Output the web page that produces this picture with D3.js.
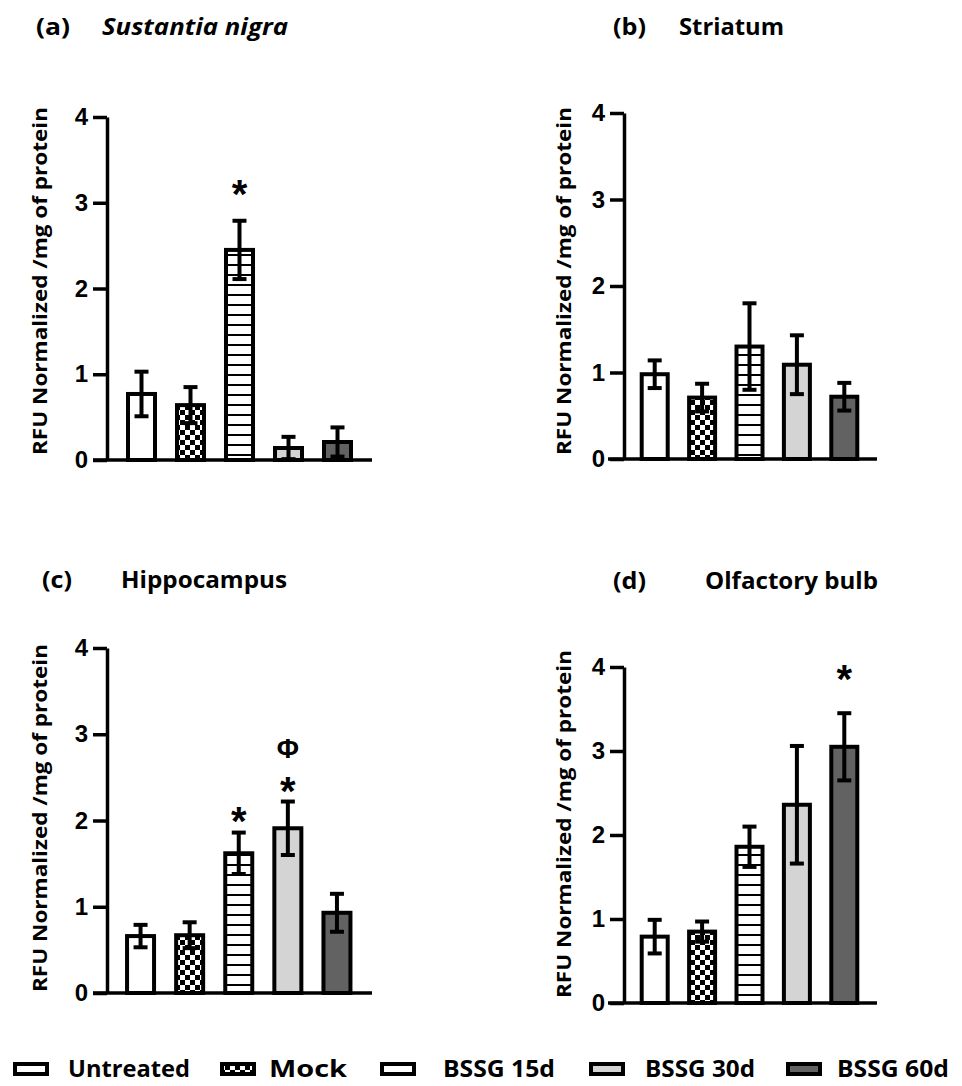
<!DOCTYPE html>
<html><head><meta charset="utf-8">
<script src="https://cdn.jsdelivr.net/npm/d3@7"></script>
<style>body{margin:0;background:#fff}svg{display:block}</style>
</head><body><svg id="c" width="962" height="1086"></svg>
<script>
const groups = ["Untreated", "Mock", "BSSG 15d", "BSSG 30d", "BSSG 60d"];
const yTicks = [0, 1, 2, 3, 4];
const panelLetters = ["(a)", "(b)", "(c)", "(d)"];
const panelTitles = ["Sustantia nigra", "Striatum", "Hippocampus", "Olfactory bulb"];
const yLabel = "RFU Normalized /mg of protein";

const meanA = [0.77, 0.64, 2.45, 0.14, 0.21];
const errA  = [0.26, 0.21, 0.34, 0.13, 0.17];
const meanB = [0.98, 0.71, 1.30, 1.09, 0.72];
const errB  = [0.16, 0.16, 0.50, 0.34, 0.16];
const meanC = [0.66, 0.67, 1.62, 1.91, 0.93];
const errC  = [0.13, 0.15, 0.24, 0.31, 0.22];
const meanD = [0.79, 0.85, 1.86, 2.36, 3.05];
const errD  = [0.20, 0.12, 0.24, 0.70, 0.40];

const annotA = [{group: "BSSG 15d", text: "*", y: 3.21}];
const annotB = [];
const annotC = [{group: "BSSG 15d", text: "*", y: 2.10}, {group: "BSSG 30d", text: "*", y: 2.45}, {group: "BSSG 30d", text: "Φ", y: 2.84}];
const annotD = [{group: "BSSG 60d", text: "*", y: 3.96}];

const means = [meanA, meanB, meanC, meanD];
const errs = [errA, errB, errC, errD];
const annots = [annotA, annotB, annotC, annotD];

// layout (positions / sizes)
const layouts = [
  {axisX:107, y0:460, y4:117, bandL:117, bandR:362, xL:93, xR:372, barW:27, labelX:47, labelY:281, letterX:36, letterW:34, titleX:102, titleY:35, titleW:186, italic:true},
  {axisX:624, y0:459, y4:113, bandL:631, bandR:868, xL:608, xR:877, barW:26, labelX:571, labelY:281, letterX:613, letterW:33, titleX:679, titleY:35, titleW:105, italic:false},
  {axisX:107, y0:993, y4:648, bandL:116, bandR:361.5, xL:93, xR:372, barW:27, labelX:47, labelY:818, letterX:42, letterW:30, titleX:121, titleY:588, titleW:166, italic:false},
  {axisX:624, y0:1003, y4:667, bandL:631, bandR:868, xL:608, xR:877, barW:26, labelX:571, labelY:824, letterX:613, letterW:33, titleX:705, titleY:589, titleW:173, italic:false}
];

const svg = d3.select("#c");
const defs = svg.append("defs");

// checker pattern (Mock)
const pc = defs.append("pattern").attr("id","checker").attr("patternUnits","userSpaceOnUse")
  .attr("width",10).attr("height",10);
pc.append("rect").attr("width",10).attr("height",10).attr("fill","#fff");
pc.append("rect").attr("width",5).attr("height",5).attr("fill","#000");
pc.append("rect").attr("x",5).attr("y",5).attr("width",5).attr("height",5).attr("fill","#000");

// horizontal lines pattern (BSSG 15d)
const ph = defs.append("pattern").attr("id","hlines").attr("patternUnits","userSpaceOnUse")
  .attr("width",10).attr("height",10);
ph.append("rect").attr("width",10).attr("height",10).attr("fill","#fff");
ph.append("rect").attr("y",4).attr("width",10).attr("height",2).attr("fill","#000");

const fills = {"Untreated":"#ffffff", "Mock":"url(#checker)", "BSSG 15d":"url(#hlines)", "BSSG 30d":"#d4d4d4", "BSSG 60d":"#626262"};

const titleFont = "'Open Sans', 'DejaVu Sans', sans-serif";
const numFont = "'Liberation Sans', Arial, sans-serif";

layouts.forEach((L, pi) => {
  const g = svg.append("g");
  const y = d3.scaleLinear().domain([0, 4]).range([L.y0, L.y4]);
  const x = d3.scaleBand().domain(groups).range([L.bandL, L.bandR]);

  // titles
  g.append("text").attr("x", L.letterX).attr("y", L.titleY)
    .attr("font-family", titleFont).attr("font-weight", 700).attr("font-size", 23)
    .attr("textLength", L.letterW).attr("lengthAdjust", "spacingAndGlyphs")
    .attr("fill", "#000").text(panelLetters[pi]);
  g.append("text").attr("x", L.titleX).attr("y", L.titleY)
    .attr("font-family", titleFont).attr("font-weight", 700).attr("font-size", 23)
    .attr("font-style", L.italic ? "italic" : "normal")
    .attr("textLength", L.titleW).attr("lengthAdjust", "spacingAndGlyphs")
    .attr("fill", "#000").text(panelTitles[pi]);

  // y label
  g.append("text").attr("transform", `translate(${L.labelX},${L.labelY}) rotate(-90)`)
    .attr("text-anchor", "middle").attr("font-family", titleFont).attr("font-weight", 700)
    .attr("font-size", 20).attr("textLength", 348).attr("lengthAdjust", "spacingAndGlyphs")
    .attr("fill", "#000").text(yLabel);

  // bars
  const data = groups.map((k, i) => ({k, m: means[pi][i], e: errs[pi][i]}));
  g.selectAll("rect.bar").data(data).join("rect").attr("class", "bar")
    .attr("x", d => x(d.k) + x.bandwidth() / 2 - L.barW / 2)
    .attr("width", L.barW)
    .attr("y", d => y(d.m))
    .attr("height", d => y(0) - y(d.m))
    .attr("fill", d => fills[d.k]).attr("stroke", "#000").attr("stroke-width", 4);

  // error bars
  const eg = g.selectAll("g.err").data(data).join("g").attr("class", "err")
    .attr("stroke", "#000").attr("stroke-width", 4).attr("fill", "none");
  eg.append("line")
    .attr("x1", d => x(d.k) + x.bandwidth() / 2).attr("x2", d => x(d.k) + x.bandwidth() / 2)
    .attr("y1", d => y(d.m - d.e)).attr("y2", d => y(d.m + d.e));
  eg.append("line")
    .attr("x1", d => x(d.k) + x.bandwidth() / 2 - 7).attr("x2", d => x(d.k) + x.bandwidth() / 2 + 7)
    .attr("y1", d => y(d.m + d.e)).attr("y2", d => y(d.m + d.e));
  eg.append("line")
    .attr("x1", d => x(d.k) + x.bandwidth() / 2 - 7).attr("x2", d => x(d.k) + x.bandwidth() / 2 + 7)
    .attr("y1", d => y(d.m - d.e)).attr("y2", d => y(d.m - d.e));

  // y axis
  const ax = g.append("g").attr("transform", `translate(${L.axisX},0)`)
    .call(d3.axisLeft(y).tickValues(yTicks).tickFormat(d3.format("d")).tickSize(14).tickSizeOuter(0).tickPadding(5));
  ax.select(".domain").attr("stroke", "#000").attr("stroke-width", 3.5);
  ax.selectAll(".tick line").attr("stroke", "#000").attr("stroke-width", 3.5);
  ax.selectAll(".tick text").attr("font-family", numFont).attr("font-weight", 700)
    .attr("font-size", 24).attr("fill", "#000");

  // x axis baseline
  g.append("line").attr("x1", L.xL).attr("x2", L.xR).attr("y1", y(0)).attr("y2", y(0))
    .attr("stroke", "#000").attr("stroke-width", 3.5);

  // annotations
  annots[pi].forEach(a => {
    const cx = x(a.group) + x.bandwidth() / 2;
    if (a.text === "*") {
      g.append("text").attr("x", cx).attr("y", y(a.y) + 23).attr("text-anchor", "middle")
        .attr("font-family", numFont).attr("font-weight", 700).attr("font-size", 40)
        .attr("fill", "#000").text(a.text);
    } else {
      g.append("text").attr("x", cx).attr("y", y(a.y) + 10).attr("text-anchor", "middle")
        .attr("font-family", numFont).attr("font-weight", 700).attr("font-size", 27)
        .attr("fill", "#000").text(a.text);
    }
  });
});

// legend
const legendX = [13, 220, 380, 589, 786];
const legendTextX = [68, 269, 443, 645, 837];
const legendTextW = [122, 78, 112, 110, 112];
const lg = svg.append("g");
groups.forEach((k, i) => {
  lg.append("rect").attr("x", legendX[i] + 2).attr("y", 1064).attr("width", 32).attr("height", 10)
    .attr("fill", fills[k]).attr("stroke", "#000").attr("stroke-width", 4);
  lg.append("text").attr("x", legendTextX[i]).attr("y", 1077)
    .attr("font-family", titleFont).attr("font-weight", 700).attr("font-size", 23)
    .attr("textLength", legendTextW[i]).attr("lengthAdjust", "spacingAndGlyphs")
    .attr("fill", "#000").text(k);
});
</script></body></html>
